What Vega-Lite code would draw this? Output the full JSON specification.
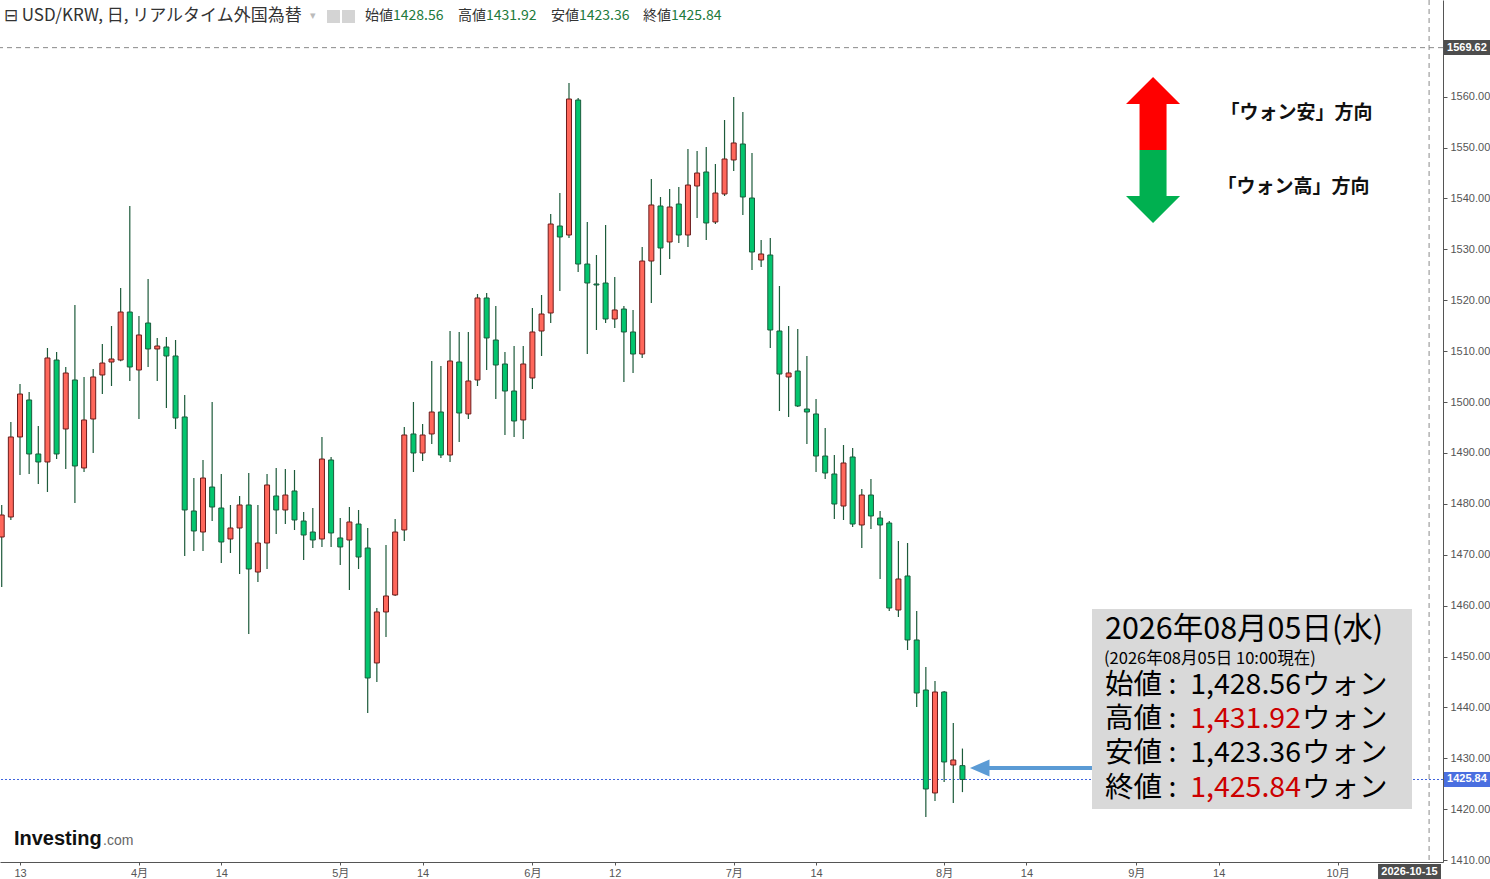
{
  "$schema": "https://vega.github.io/schema/vega-lite/v6.json",
  "width": 1443,
  "height": 862,
  "autosize": {"type": "none"},
  "padding": {"left": 0, "top": 0, "right": 47, "bottom": 17},
  "background": "#ffffff",
  "config": {
    "view": {"stroke": null},
    "text": {"font": "Noto Sans CJK JP"}
  },
  "resolve": {"axis": {"x": "independent", "y": "independent"}},
  "datasets": {
    "usdkrw": [
      {"date": "2026-03-11", "open": 1473.48, "high": 1479.77, "low": 1463.66, "close": 1477.80},
      {"date": "2026-03-12", "open": 1477.41, "high": 1496.07, "low": 1476.82, "close": 1493.13},
      {"date": "2026-03-13", "open": 1493.13, "high": 1503.54, "low": 1485.66, "close": 1501.57},
      {"date": "2026-03-16", "open": 1500.40, "high": 1501.97, "low": 1485.86, "close": 1489.79},
      {"date": "2026-03-17", "open": 1489.79, "high": 1495.29, "low": 1483.89, "close": 1488.22},
      {"date": "2026-03-18", "open": 1488.22, "high": 1510.61, "low": 1482.32, "close": 1508.65},
      {"date": "2026-03-19", "open": 1508.25, "high": 1509.83, "low": 1488.80, "close": 1489.79},
      {"date": "2026-03-20", "open": 1494.70, "high": 1506.88, "low": 1486.84, "close": 1505.70},
      {"date": "2026-03-23", "open": 1504.33, "high": 1519.06, "low": 1480.16, "close": 1487.43},
      {"date": "2026-03-24", "open": 1487.04, "high": 1504.92, "low": 1486.25, "close": 1496.47},
      {"date": "2026-03-25", "open": 1496.66, "high": 1506.49, "low": 1489.98, "close": 1504.92},
      {"date": "2026-03-26", "open": 1505.31, "high": 1511.40, "low": 1501.57, "close": 1507.66},
      {"date": "2026-03-27", "open": 1507.86, "high": 1514.93, "low": 1503.15, "close": 1508.45},
      {"date": "2026-03-30", "open": 1508.25, "high": 1522.40, "low": 1508.00, "close": 1517.68},
      {"date": "2026-03-31", "open": 1517.68, "high": 1538.51, "low": 1504.13, "close": 1506.88},
      {"date": "2026-04-01", "open": 1506.29, "high": 1516.90, "low": 1496.66, "close": 1513.17},
      {"date": "2026-04-02", "open": 1515.52, "high": 1524.17, "low": 1506.88, "close": 1510.42},
      {"date": "2026-04-03", "open": 1510.42, "high": 1512.58, "low": 1504.13, "close": 1511.00},
      {"date": "2026-04-06", "open": 1510.81, "high": 1512.77, "low": 1498.82, "close": 1509.04},
      {"date": "2026-04-07", "open": 1509.04, "high": 1512.18, "low": 1494.70, "close": 1496.86},
      {"date": "2026-04-08", "open": 1497.06, "high": 1501.38, "low": 1469.75, "close": 1478.79},
      {"date": "2026-04-09", "open": 1478.59, "high": 1485.07, "low": 1470.73, "close": 1474.66},
      {"date": "2026-04-10", "open": 1474.46, "high": 1488.61, "low": 1470.73, "close": 1485.07},
      {"date": "2026-04-13", "open": 1483.30, "high": 1500.00, "low": 1476.62, "close": 1479.37},
      {"date": "2026-04-14", "open": 1479.18, "high": 1485.86, "low": 1468.37, "close": 1472.50},
      {"date": "2026-04-15", "open": 1473.09, "high": 1479.77, "low": 1470.34, "close": 1475.25},
      {"date": "2026-04-16", "open": 1475.25, "high": 1481.54, "low": 1466.21, "close": 1479.77},
      {"date": "2026-04-17", "open": 1479.77, "high": 1486.05, "low": 1454.42, "close": 1467.19},
      {"date": "2026-04-20", "open": 1466.60, "high": 1479.77, "low": 1464.64, "close": 1472.30},
      {"date": "2026-04-21", "open": 1472.30, "high": 1485.86, "low": 1467.19, "close": 1483.70},
      {"date": "2026-04-22", "open": 1481.54, "high": 1487.04, "low": 1474.07, "close": 1478.79},
      {"date": "2026-04-23", "open": 1478.79, "high": 1486.84, "low": 1476.03, "close": 1481.73},
      {"date": "2026-04-24", "open": 1482.52, "high": 1486.64, "low": 1474.86, "close": 1476.82},
      {"date": "2026-04-27", "open": 1476.62, "high": 1478.39, "low": 1468.96, "close": 1473.87},
      {"date": "2026-04-28", "open": 1474.46, "high": 1479.18, "low": 1471.32, "close": 1472.89},
      {"date": "2026-04-29", "open": 1473.09, "high": 1493.13, "low": 1471.52, "close": 1488.80},
      {"date": "2026-04-30", "open": 1488.61, "high": 1489.20, "low": 1471.52, "close": 1474.27},
      {"date": "2026-05-01", "open": 1473.29, "high": 1477.21, "low": 1467.98, "close": 1471.52},
      {"date": "2026-05-04", "open": 1472.89, "high": 1479.37, "low": 1463.07, "close": 1476.43},
      {"date": "2026-05-05", "open": 1476.03, "high": 1478.79, "low": 1467.19, "close": 1469.55},
      {"date": "2026-05-06", "open": 1471.32, "high": 1475.25, "low": 1438.90, "close": 1445.78},
      {"date": "2026-05-07", "open": 1448.73, "high": 1459.53, "low": 1444.99, "close": 1458.75},
      {"date": "2026-05-08", "open": 1458.75, "high": 1471.91, "low": 1453.84, "close": 1461.89},
      {"date": "2026-05-11", "open": 1462.09, "high": 1477.02, "low": 1461.89, "close": 1474.46},
      {"date": "2026-05-12", "open": 1474.86, "high": 1495.09, "low": 1472.70, "close": 1493.52},
      {"date": "2026-05-13", "open": 1493.72, "high": 1500.00, "low": 1486.25, "close": 1489.98},
      {"date": "2026-05-14", "open": 1489.98, "high": 1495.68, "low": 1488.41, "close": 1493.52},
      {"date": "2026-05-15", "open": 1493.72, "high": 1508.06, "low": 1491.75, "close": 1498.04},
      {"date": "2026-05-18", "open": 1498.04, "high": 1507.08, "low": 1489.00, "close": 1489.59},
      {"date": "2026-05-19", "open": 1489.59, "high": 1513.95, "low": 1488.22, "close": 1508.06},
      {"date": "2026-05-20", "open": 1507.86, "high": 1513.76, "low": 1492.14, "close": 1497.84},
      {"date": "2026-05-21", "open": 1497.65, "high": 1513.76, "low": 1496.66, "close": 1504.13},
      {"date": "2026-05-22", "open": 1504.33, "high": 1521.22, "low": 1503.15, "close": 1520.44},
      {"date": "2026-05-25", "open": 1520.44, "high": 1521.42, "low": 1506.29, "close": 1512.58},
      {"date": "2026-05-26", "open": 1512.18, "high": 1518.86, "low": 1500.59, "close": 1507.27},
      {"date": "2026-05-27", "open": 1507.47, "high": 1509.83, "low": 1493.52, "close": 1502.16},
      {"date": "2026-05-28", "open": 1502.16, "high": 1511.00, "low": 1493.13, "close": 1496.27},
      {"date": "2026-05-29", "open": 1496.47, "high": 1511.00, "low": 1492.73, "close": 1507.47},
      {"date": "2026-06-01", "open": 1504.72, "high": 1518.47, "low": 1502.56, "close": 1513.76},
      {"date": "2026-06-02", "open": 1513.95, "high": 1521.02, "low": 1509.04, "close": 1517.29},
      {"date": "2026-06-03", "open": 1517.49, "high": 1536.94, "low": 1515.52, "close": 1534.97},
      {"date": "2026-06-04", "open": 1534.58, "high": 1541.06, "low": 1521.81, "close": 1532.42},
      {"date": "2026-06-05", "open": 1532.81, "high": 1562.67, "low": 1532.22, "close": 1559.53},
      {"date": "2026-06-08", "open": 1559.33, "high": 1559.73, "low": 1525.54, "close": 1527.11},
      {"date": "2026-06-09", "open": 1527.11, "high": 1535.37, "low": 1509.43, "close": 1523.38},
      {"date": "2026-06-10", "open": 1523.19, "high": 1528.88, "low": 1514.15, "close": 1522.99},
      {"date": "2026-06-11", "open": 1523.38, "high": 1534.78, "low": 1515.52, "close": 1516.31},
      {"date": "2026-06-12", "open": 1516.31, "high": 1524.56, "low": 1514.54, "close": 1518.08},
      {"date": "2026-06-15", "open": 1518.27, "high": 1518.86, "low": 1503.93, "close": 1513.76},
      {"date": "2026-06-16", "open": 1513.76, "high": 1518.08, "low": 1505.70, "close": 1509.43},
      {"date": "2026-06-17", "open": 1509.43, "high": 1530.45, "low": 1508.65, "close": 1527.70},
      {"date": "2026-06-18", "open": 1527.70, "high": 1543.81, "low": 1519.45, "close": 1538.71},
      {"date": "2026-06-19", "open": 1538.51, "high": 1540.28, "low": 1524.95, "close": 1530.26},
      {"date": "2026-06-22", "open": 1531.44, "high": 1541.85, "low": 1528.10, "close": 1538.31},
      {"date": "2026-06-23", "open": 1538.90, "high": 1542.24, "low": 1531.24, "close": 1532.81},
      {"date": "2026-06-24", "open": 1532.81, "high": 1549.71, "low": 1530.45, "close": 1542.63},
      {"date": "2026-06-25", "open": 1542.44, "high": 1549.31, "low": 1536.15, "close": 1544.99},
      {"date": "2026-06-26", "open": 1545.19, "high": 1550.10, "low": 1531.83, "close": 1535.17},
      {"date": "2026-06-29", "open": 1535.37, "high": 1546.76, "low": 1534.97, "close": 1541.06},
      {"date": "2026-06-30", "open": 1540.87, "high": 1555.40, "low": 1540.47, "close": 1547.74},
      {"date": "2026-07-01", "open": 1547.55, "high": 1559.92, "low": 1545.39, "close": 1550.89},
      {"date": "2026-07-02", "open": 1550.69, "high": 1556.98, "low": 1536.74, "close": 1540.28},
      {"date": "2026-07-03", "open": 1540.08, "high": 1548.92, "low": 1525.94, "close": 1529.47},
      {"date": "2026-07-06", "open": 1527.90, "high": 1531.83, "low": 1526.53, "close": 1529.08},
      {"date": "2026-07-07", "open": 1528.88, "high": 1532.22, "low": 1510.61, "close": 1514.15},
      {"date": "2026-07-08", "open": 1513.95, "high": 1522.79, "low": 1498.23, "close": 1505.50},
      {"date": "2026-07-09", "open": 1504.92, "high": 1514.93, "low": 1497.06, "close": 1505.70},
      {"date": "2026-07-10", "open": 1506.09, "high": 1514.35, "low": 1499.02, "close": 1499.22},
      {"date": "2026-07-13", "open": 1498.63, "high": 1509.04, "low": 1491.75, "close": 1498.04},
      {"date": "2026-07-14", "open": 1497.65, "high": 1500.59, "low": 1486.25, "close": 1489.39},
      {"date": "2026-07-15", "open": 1489.39, "high": 1494.90, "low": 1484.88, "close": 1486.05},
      {"date": "2026-07-16", "open": 1485.86, "high": 1489.59, "low": 1477.02, "close": 1479.96},
      {"date": "2026-07-17", "open": 1479.57, "high": 1491.56, "low": 1476.82, "close": 1488.02},
      {"date": "2026-07-20", "open": 1489.20, "high": 1490.97, "low": 1475.45, "close": 1476.03},
      {"date": "2026-07-21", "open": 1475.84, "high": 1482.91, "low": 1471.32, "close": 1481.73},
      {"date": "2026-07-22", "open": 1481.73, "high": 1484.88, "low": 1475.05, "close": 1477.61},
      {"date": "2026-07-23", "open": 1477.21, "high": 1478.59, "low": 1465.23, "close": 1475.84},
      {"date": "2026-07-24", "open": 1476.23, "high": 1476.62, "low": 1458.94, "close": 1459.53},
      {"date": "2026-07-27", "open": 1459.14, "high": 1472.70, "low": 1457.76, "close": 1465.23},
      {"date": "2026-07-28", "open": 1465.82, "high": 1472.30, "low": 1451.28, "close": 1453.25},
      {"date": "2026-07-29", "open": 1453.25, "high": 1458.94, "low": 1440.08, "close": 1442.83},
      {"date": "2026-07-30", "open": 1443.42, "high": 1447.94, "low": 1418.47, "close": 1423.97},
      {"date": "2026-07-31", "open": 1423.19, "high": 1445.19, "low": 1421.62, "close": 1443.03},
      {"date": "2026-08-03", "open": 1443.03, "high": 1443.22, "low": 1425.35, "close": 1429.28},
      {"date": "2026-08-04", "open": 1428.69, "high": 1436.94, "low": 1421.22, "close": 1429.67},
      {"date": "2026-08-05", "open": 1428.56, "high": 1431.92, "low": 1423.36, "close": 1425.84}
    ]
  },
  "layer": [
    {
      "data": {"values": [{}]},
      "mark": {"type": "rule", "color": "#8a8a8a", "strokeDash": [5, 4], "strokeWidth": 1},
      "encoding": {"y": {"datum": 1569.62, "type": "quantitative", "axis": null}}
    },
    {
      "data": {"values": [{}]},
      "mark": {"type": "rule", "color": "#8a8a8a", "strokeDash": [5, 4], "strokeWidth": 1},
      "encoding": {"x": {"datum": 157, "type": "quantitative", "axis": null}}
    },
    {
      "data": {"values": [{}]},
      "mark": {"type": "rule", "color": "#3d63dd", "strokeDash": [2, 2], "strokeWidth": 1},
      "encoding": {"y": {"datum": 1425.84, "type": "quantitative", "axis": null}}
    },
    {
      "data": {"name": "usdkrw"},
      "transform": [
        {"window": [{"op": "row_number", "as": "n"}], "sort": [{"field": "date"}]}
      ],
      "resolve": {"axis": {"x": "independent", "y": "independent"}},
      "layer": [
        {
          "mark": {"type": "rule", "color": "#1d5b3b", "strokeWidth": 1.2},
          "encoding": {
            "x": {
              "field": "n",
              "type": "quantitative",
              "scale": {"domain": [0.814, 158.52], "nice": false, "zero": false, "padding": 0},
              "axis": {
                "title": null,
                "grid": false,
                "values": [3, 16, 25, 38, 47, 59, 68, 81, 90, 104, 113, 125, 134, 147],
                "labelExpr": "['13','4月','14','5月','14','6月','12','7月','14','8月','14','9月','14','10月'][indexof([3,16,25,38,47,59,68,81,90,104,113,125,134,147], datum.value)]",
                "labelFont": "Liberation Sans, Noto Sans CJK JP",
                "labelFontSize": 11,
                "labelColor": "#555555",
                "labelFlush": false,
                "labelOverlap": false,
                "labelPadding": 2,
                "tickSize": 3,
                "tickColor": "#555555",
                "domainColor": "#555555"
              }
            },
            "y": {
              "field": "low",
              "type": "quantitative",
              "scale": {"domain": [1409.63, 1578.98], "nice": false, "zero": false, "padding": 0},
              "axis": {
                "title": null,
                "orient": "right",
                "grid": false,
                "values": [1410, 1420, 1430, 1440, 1450, 1460, 1470, 1480, 1490, 1500, 1510, 1520, 1530, 1540, 1550, 1560],
                "format": ".2f",
                "labelFont": "Liberation Sans",
                "labelFontSize": 11,
                "labelColor": "#555555",
                "labelOverlap": false,
                "labelPadding": 3,
                "tickSize": 4,
                "tickColor": "#555555",
                "domainColor": "#555555"
              }
            },
            "y2": {"field": "high"}
          }
        },
        {
          "mark": {"type": "bar", "width": 5, "strokeWidth": 1},
          "encoding": {
            "x": {"field": "n", "type": "quantitative", "axis": null},
            "y": {"field": "open", "type": "quantitative", "axis": null},
            "y2": {"field": "close"},
            "fill": {
              "condition": {"test": "datum.close > datum.open", "value": "#ff675b"},
              "value": "#03c56e"
            },
            "stroke": {
              "condition": {"test": "datum.close > datum.open", "value": "#6d1c1c"},
              "value": "#1a5c3c"
            }
          }
        }
      ]
    },
    {
      "data": {"values": [{}]},
      "mark": {"type": "text", "text": "⊟ USD/KRW, 日, リアルタイム外国為替", "align": "left", "baseline": "middle", "fontSize": 17, "color": "#333333"},
      "encoding": {"x": {"datum": 1.25, "type": "quantitative", "axis": null}, "y": {"datum": 1575.84, "type": "quantitative", "axis": null}}
    },
    {
      "data": {"values": [{}]},
      "mark": {"type": "text", "text": "▾", "align": "left", "baseline": "middle", "fontSize": 11, "color": "#bbbbbb"},
      "encoding": {"x": {"datum": 34.69, "type": "quantitative", "axis": null}, "y": {"datum": 1575.84, "type": "quantitative", "axis": null}}
    },
    {
      "data": {"values": [{}]},
      "mark": {"type": "rect", "color": "#d4d4d4"},
      "encoding": {
        "x": {"datum": 36.55, "type": "quantitative", "axis": null}, "x2": {"datum": 37.97},
        "y": {"datum": 1577.01, "type": "quantitative", "axis": null}, "y2": {"datum": 1574.46}
      }
    },
    {
      "data": {"values": [{}]},
      "mark": {"type": "rect", "color": "#d4d4d4"},
      "encoding": {
        "x": {"datum": 38.19, "type": "quantitative", "axis": null}, "x2": {"datum": 39.61},
        "y": {"datum": 1577.01, "type": "quantitative", "axis": null}, "y2": {"datum": 1574.46}
      }
    },
    {
      "data": {"values": [{}]},
      "mark": {"type": "text", "text": "始値", "align": "left", "baseline": "middle", "fontSize": 14, "color": "#333333"},
      "encoding": {"x": {"datum": 40.70, "type": "quantitative", "axis": null}, "y": {"datum": 1575.84, "type": "quantitative", "axis": null}}
    },
    {
      "data": {"values": [{}]},
      "mark": {"type": "text", "text": "1428.56", "align": "left", "baseline": "middle", "fontSize": 14, "color": "#217a3c"},
      "encoding": {"x": {"datum": 43.77, "type": "quantitative", "axis": null}, "y": {"datum": 1575.84, "type": "quantitative", "axis": null}}
    },
    {
      "data": {"values": [{}]},
      "mark": {"type": "text", "text": "高値", "align": "left", "baseline": "middle", "fontSize": 14, "color": "#333333"},
      "encoding": {"x": {"datum": 50.87, "type": "quantitative", "axis": null}, "y": {"datum": 1575.84, "type": "quantitative", "axis": null}}
    },
    {
      "data": {"values": [{}]},
      "mark": {"type": "text", "text": "1431.92", "align": "left", "baseline": "middle", "fontSize": 14, "color": "#217a3c"},
      "encoding": {"x": {"datum": 53.93, "type": "quantitative", "axis": null}, "y": {"datum": 1575.84, "type": "quantitative", "axis": null}}
    },
    {
      "data": {"values": [{}]},
      "mark": {"type": "text", "text": "安値", "align": "left", "baseline": "middle", "fontSize": 14, "color": "#333333"},
      "encoding": {"x": {"datum": 61.03, "type": "quantitative", "axis": null}, "y": {"datum": 1575.84, "type": "quantitative", "axis": null}}
    },
    {
      "data": {"values": [{}]},
      "mark": {"type": "text", "text": "1423.36", "align": "left", "baseline": "middle", "fontSize": 14, "color": "#217a3c"},
      "encoding": {"x": {"datum": 64.09, "type": "quantitative", "axis": null}, "y": {"datum": 1575.84, "type": "quantitative", "axis": null}}
    },
    {
      "data": {"values": [{}]},
      "mark": {"type": "text", "text": "終値", "align": "left", "baseline": "middle", "fontSize": 14, "color": "#333333"},
      "encoding": {"x": {"datum": 71.09, "type": "quantitative", "axis": null}, "y": {"datum": 1575.84, "type": "quantitative", "axis": null}}
    },
    {
      "data": {"values": [{}]},
      "mark": {"type": "text", "text": "1425.84", "align": "left", "baseline": "middle", "fontSize": 14, "color": "#217a3c"},
      "encoding": {"x": {"datum": 74.15, "type": "quantitative", "axis": null}, "y": {"datum": 1575.84, "type": "quantitative", "axis": null}}
    },
    {
      "data": {"values": [{}]},
      "mark": {"type": "point", "shape": "M0,-1L0.37,-0.63L0.185,-0.63L0.185,0L-0.185,0L-0.185,-0.63L-0.37,-0.63Z", "filled": true, "opacity": 1, "strokeWidth": 0, "size": 21316, "color": "#ff0000"},
      "encoding": {"x": {"datum": 126.83, "type": "quantitative", "axis": null}, "y": {"datum": 1549.51, "type": "quantitative", "axis": null}}
    },
    {
      "data": {"values": [{}]},
      "mark": {"type": "point", "shape": "M0,1L0.37,0.63L0.185,0.63L0.185,0L-0.185,0L-0.185,0.63L-0.37,0.63Z", "filled": true, "opacity": 1, "strokeWidth": 0, "size": 21316, "color": "#00b050"},
      "encoding": {"x": {"datum": 126.83, "type": "quantitative", "axis": null}, "y": {"datum": 1549.51, "type": "quantitative", "axis": null}}
    },
    {
      "data": {"values": [{}]},
      "mark": {"type": "text", "text": "「ウォン安」方向", "align": "left", "baseline": "middle", "fontSize": 19, "fontWeight": "bold", "color": "#111111"},
      "encoding": {"x": {"datum": 134.2, "type": "quantitative", "axis": null}, "y": {"datum": 1556.78, "type": "quantitative", "axis": null}}
    },
    {
      "data": {"values": [{}]},
      "mark": {"type": "text", "text": "「ウォン高」方向", "align": "left", "baseline": "middle", "fontSize": 19, "fontWeight": "bold", "color": "#111111"},
      "encoding": {"x": {"datum": 133.87, "type": "quantitative", "axis": null}, "y": {"datum": 1542.24, "type": "quantitative", "axis": null}}
    },
    {
      "data": {"values": [{}]},
      "mark": {"type": "rect", "color": "#d9d9d9"},
      "encoding": {
        "x": {"datum": 120.16, "type": "quantitative", "axis": null}, "x2": {"datum": 155.13},
        "y": {"datum": 1459.34, "type": "quantitative", "axis": null}, "y2": {"datum": 1420.04}
      }
    },
    {
      "data": {"values": [{}]},
      "mark": {"type": "text", "text": "2026年08月05日(水)", "align": "left", "baseline": "middle", "fontSize": 30.5, "color": "#000000"},
      "encoding": {"x": {"datum": 121.58, "type": "quantitative", "axis": null}, "y": {"datum": 1455.21, "type": "quantitative", "axis": null}}
    },
    {
      "data": {"values": [{}]},
      "mark": {"type": "text", "text": "(2026年08月05日 10:00現在)", "align": "left", "baseline": "middle", "fontSize": 16.5, "color": "#000000"},
      "encoding": {"x": {"datum": 121.47, "type": "quantitative", "axis": null}, "y": {"datum": 1449.57, "type": "quantitative", "axis": null}}
    },
    {
      "data": {"values": [{}]},
      "mark": {"type": "text", "text": "始値 :", "align": "left", "baseline": "middle", "fontSize": 28.5, "color": "#000000"},
      "encoding": {"x": {"datum": 121.58, "type": "quantitative", "axis": null}, "y": {"datum": 1444.40, "type": "quantitative", "axis": null}}
    },
    {
      "data": {"values": [{}]},
      "mark": {"type": "text", "text": "1,428.56", "align": "right", "baseline": "middle", "fontSize": 28.5, "color": "#000000"},
      "encoding": {"x": {"datum": 143.0, "type": "quantitative", "axis": null}, "y": {"datum": 1444.40, "type": "quantitative", "axis": null}}
    },
    {
      "data": {"values": [{}]},
      "mark": {"type": "text", "text": "ウォン", "align": "left", "baseline": "middle", "fontSize": 28.5, "color": "#000000"},
      "encoding": {"x": {"datum": 143.11, "type": "quantitative", "axis": null}, "y": {"datum": 1444.40, "type": "quantitative", "axis": null}}
    },
    {
      "data": {"values": [{}]},
      "mark": {"type": "text", "text": "高値 :", "align": "left", "baseline": "middle", "fontSize": 28.5, "color": "#000000"},
      "encoding": {"x": {"datum": 121.58, "type": "quantitative", "axis": null}, "y": {"datum": 1437.69, "type": "quantitative", "axis": null}}
    },
    {
      "data": {"values": [{}]},
      "mark": {"type": "text", "text": "1,431.92", "align": "right", "baseline": "middle", "fontSize": 28.5, "color": "#cc0000"},
      "encoding": {"x": {"datum": 143.0, "type": "quantitative", "axis": null}, "y": {"datum": 1437.69, "type": "quantitative", "axis": null}}
    },
    {
      "data": {"values": [{}]},
      "mark": {"type": "text", "text": "ウォン", "align": "left", "baseline": "middle", "fontSize": 28.5, "color": "#000000"},
      "encoding": {"x": {"datum": 143.11, "type": "quantitative", "axis": null}, "y": {"datum": 1437.69, "type": "quantitative", "axis": null}}
    },
    {
      "data": {"values": [{}]},
      "mark": {"type": "text", "text": "安値 :", "align": "left", "baseline": "middle", "fontSize": 28.5, "color": "#000000"},
      "encoding": {"x": {"datum": 121.58, "type": "quantitative", "axis": null}, "y": {"datum": 1430.97, "type": "quantitative", "axis": null}}
    },
    {
      "data": {"values": [{}]},
      "mark": {"type": "text", "text": "1,423.36", "align": "right", "baseline": "middle", "fontSize": 28.5, "color": "#000000"},
      "encoding": {"x": {"datum": 143.0, "type": "quantitative", "axis": null}, "y": {"datum": 1430.97, "type": "quantitative", "axis": null}}
    },
    {
      "data": {"values": [{}]},
      "mark": {"type": "text", "text": "ウォン", "align": "left", "baseline": "middle", "fontSize": 28.5, "color": "#000000"},
      "encoding": {"x": {"datum": 143.11, "type": "quantitative", "axis": null}, "y": {"datum": 1430.97, "type": "quantitative", "axis": null}}
    },
    {
      "data": {"values": [{}]},
      "mark": {"type": "text", "text": "終値 :", "align": "left", "baseline": "middle", "fontSize": 28.5, "color": "#000000"},
      "encoding": {"x": {"datum": 121.58, "type": "quantitative", "axis": null}, "y": {"datum": 1424.25, "type": "quantitative", "axis": null}}
    },
    {
      "data": {"values": [{}]},
      "mark": {"type": "text", "text": "1,425.84", "align": "right", "baseline": "middle", "fontSize": 28.5, "color": "#cc0000"},
      "encoding": {"x": {"datum": 143.0, "type": "quantitative", "axis": null}, "y": {"datum": 1424.25, "type": "quantitative", "axis": null}}
    },
    {
      "data": {"values": [{}]},
      "mark": {"type": "text", "text": "ウォン", "align": "left", "baseline": "middle", "fontSize": 28.5, "color": "#000000"},
      "encoding": {"x": {"datum": 143.11, "type": "quantitative", "axis": null}, "y": {"datum": 1424.25, "type": "quantitative", "axis": null}}
    },
    {
      "data": {"values": [{}]},
      "mark": {"type": "point", "shape": "M-1,0L-0.68,-0.14L-0.68,-0.033L1,-0.033L1,0.033L-0.68,0.033L-0.68,0.14Z", "filled": true, "opacity": 1, "strokeWidth": 0, "size": 14884, "color": "#5b9bd5"},
      "encoding": {"x": {"datum": 113.49, "type": "quantitative", "axis": null}, "y": {"datum": 1428.10, "type": "quantitative", "axis": null}}
    },
    {
      "data": {"values": [{}]},
      "mark": {"type": "text", "text": "Investing", "align": "left", "baseline": "alphabetic", "font": "Liberation Sans", "fontSize": 20, "fontWeight": "bold", "color": "#111111"},
      "encoding": {"x": {"datum": 2.34, "type": "quantitative", "axis": null}, "y": {"datum": 1412.97, "type": "quantitative", "axis": null}}
    },
    {
      "data": {"values": [{}]},
      "mark": {"type": "text", "text": ".com", "align": "left", "baseline": "alphabetic", "font": "Liberation Sans", "fontSize": 14, "color": "#666666"},
      "encoding": {"x": {"datum": 12.07, "type": "quantitative", "axis": null}, "y": {"datum": 1412.97, "type": "quantitative", "axis": null}}
    },
    {
      "data": {"values": [{}]},
      "mark": {"type": "rect", "color": "#4d4d4d"},
      "encoding": {
        "x": {"datum": 158.63, "type": "quantitative", "axis": null}, "x2": {"datum": 163.66},
        "y": {"datum": 1571.12, "type": "quantitative", "axis": null}, "y2": {"datum": 1568.17}
      }
    },
    {
      "data": {"values": [{}]},
      "mark": {"type": "text", "text": "1569.62", "align": "left", "baseline": "middle", "font": "Liberation Sans", "fontSize": 11, "fontWeight": "bold", "color": "#ffffff"},
      "encoding": {"x": {"datum": 158.96, "type": "quantitative", "axis": null}, "y": {"datum": 1569.62, "type": "quantitative", "axis": null}}
    },
    {
      "data": {"values": [{}]},
      "mark": {"type": "rect", "color": "#4a6fe0"},
      "encoding": {
        "x": {"datum": 158.63, "type": "quantitative", "axis": null}, "x2": {"datum": 163.66},
        "y": {"datum": 1427.31, "type": "quantitative", "axis": null}, "y2": {"datum": 1424.36}
      }
    },
    {
      "data": {"values": [{}]},
      "mark": {"type": "text", "text": "1425.84", "align": "left", "baseline": "middle", "font": "Liberation Sans", "fontSize": 11, "fontWeight": "bold", "color": "#ffffff"},
      "encoding": {"x": {"datum": 158.96, "type": "quantitative", "axis": null}, "y": {"datum": 1425.84, "type": "quantitative", "axis": null}}
    },
    {
      "data": {"values": [{}]},
      "mark": {"type": "rect", "color": "#4d4d4d"},
      "encoding": {
        "x": {"datum": 151.42, "type": "quantitative", "axis": null}, "x2": {"datum": 158.30},
        "y": {"datum": 1409.24, "type": "quantitative", "axis": null}, "y2": {"datum": 1406.29}
      }
    },
    {
      "data": {"values": [{}]},
      "mark": {"type": "text", "text": "2026-10-15", "align": "center", "baseline": "middle", "font": "Liberation Sans", "fontSize": 11, "fontWeight": "bold", "color": "#ffffff"},
      "encoding": {"x": {"datum": 154.86, "type": "quantitative", "axis": null}, "y": {"datum": 1407.76, "type": "quantitative", "axis": null}}
    }
  ]
}
